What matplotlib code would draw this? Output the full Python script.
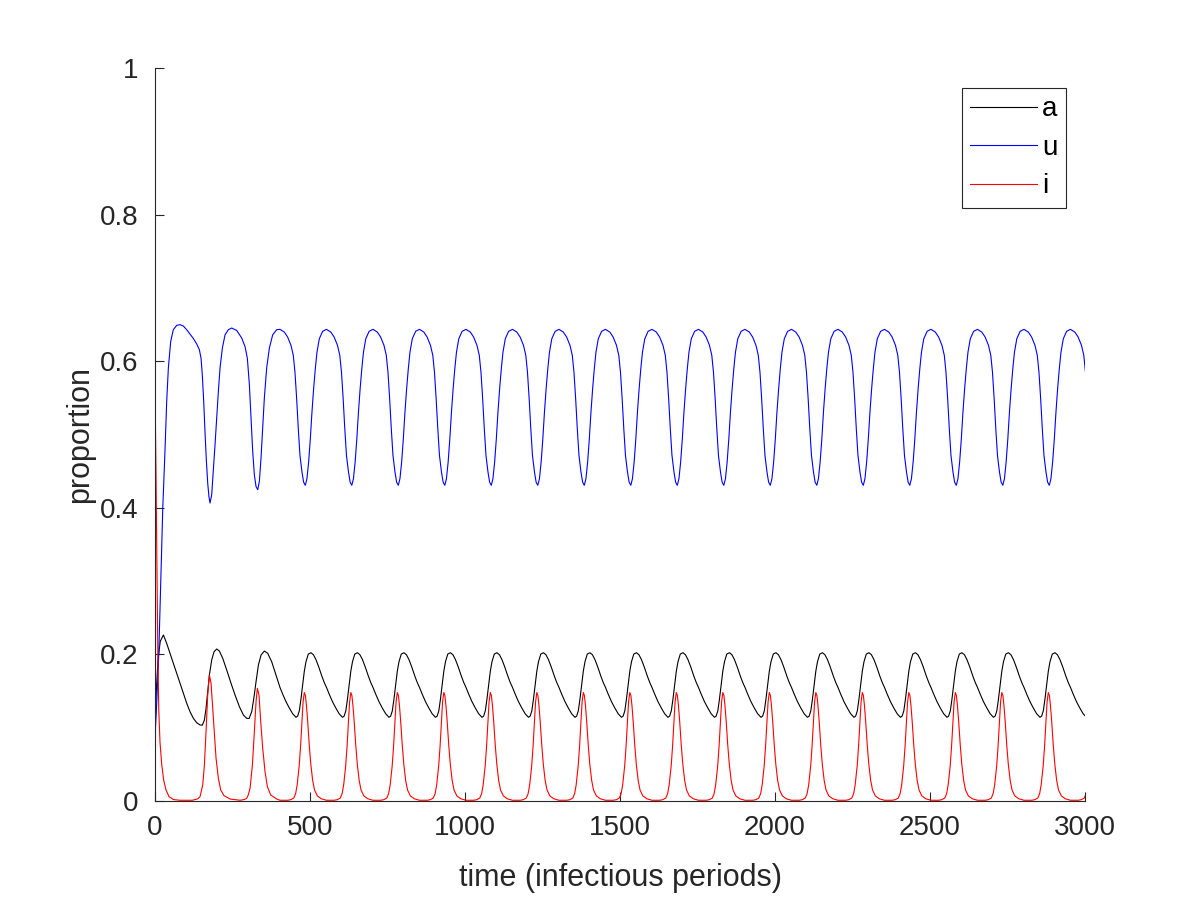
import numpy as np
import matplotlib
matplotlib.use('Agg')
import matplotlib.pyplot as plt

plt.rcParams['font.family'] = ['Liberation Sans', 'DejaVu Sans']

# ---- data ----
# start-up transient (before the oscillation settles)
a_t0 = [0, 4, 10, 17, 27, 37.6, 48.4, 59.1, 69.9, 80.6, 91.4, 102.2, 112.9, 123.7, 134.4,
        145.2, 152.7, 159.2, 164.5, 169.9, 175.3, 182.8, 190.4, 199, 207.5, 218.3, 231.2,
        245.2, 258.1, 272.1, 285, 295.7, 303.3, 311.9, 319.4, 325.8, 333.4, 342, 352.6,
        363.4, 376.3, 390.3]
a_v0 = [0.10, 0.15, 0.195, 0.218, 0.2265, 0.215, 0.2015, 0.1878, 0.174, 0.1605, 0.147,
        0.1333, 0.1218, 0.1128, 0.1068, 0.1037, 0.1035, 0.1105, 0.1262, 0.149, 0.1719,
        0.1924, 0.2037, 0.2074, 0.2046, 0.1947, 0.1787, 0.1605, 0.1446, 0.1287, 0.1173,
        0.1128, 0.1125, 0.1218, 0.1423, 0.1628, 0.1855, 0.1992, 0.2046, 0.2015, 0.19,
        0.1719]

u_t0 = [0, 1.5, 5, 12, 25, 32, 37.6, 43, 50.5, 59, 70, 80.6, 91.4, 102, 113, 123.6, 134.4,
        143, 148.4, 152.7, 157, 161, 165.5, 170, 174, 177.4, 182.8, 188, 193.5, 198.9,
        204.3, 209.7, 217.2, 225.8, 236.5, 247.3, 263.4, 279.5, 290.3, 297.8, 304.3,
        309.6, 315, 320.4, 325.8, 331.2, 336.5, 341.9, 347.3, 352.6, 360.2, 368.8,
        379.5, 392.4]
u_v0 = [0.0, 0.10, 0.13, 0.20, 0.40, 0.477, 0.545, 0.591, 0.627, 0.643, 0.649, 0.6498,
        0.648, 0.643, 0.637, 0.631, 0.6235, 0.6157, 0.604, 0.58, 0.545, 0.505, 0.465,
        0.433, 0.415, 0.4065, 0.418, 0.45, 0.486, 0.5225, 0.559, 0.591, 0.618, 0.636,
        0.643, 0.6453, 0.642, 0.6317, 0.620, 0.604, 0.568, 0.5225, 0.477, 0.445, 0.429,
        0.4247, 0.436, 0.468, 0.509, 0.55, 0.591, 0.618, 0.636, 0.643]

i_t0 = [0, 3, 6, 9, 12, 16, 21.5, 28, 35.5, 45, 59, 80, 120, 138, 145.2, 153.8, 159.2,
        164.5, 169.9, 175.3, 180.7, 186, 191.4, 196.8, 204.3, 211.8, 222.5, 241.9, 274.2,
        288, 295.7, 300.5, 306.5, 314, 320.4, 325.8, 330.1, 335.5, 340.9, 347.3, 354.8,
        362.4, 373.1, 392.5]
i_v0 = [0.56, 0.45, 0.32, 0.2, 0.125, 0.08, 0.05, 0.028, 0.015, 0.006, 0.002, 0.001,
        0.001, 0.003, 0.006, 0.022, 0.049, 0.0945, 0.1446, 0.172, 0.1605, 0.1265, 0.09,
        0.0582, 0.031, 0.015, 0.0073, 0.0027, 0.001, 0.002, 0.0037, 0.008, 0.0173, 0.049,
        0.0945, 0.1355, 0.1537, 0.144, 0.108, 0.072, 0.04, 0.0195, 0.0082, 0.0027]

# one settled cycle, time measured from a peak of u
u_cyc_dt = [0, 14, 24.7, 35.5, 43, 48.4, 53.8, 59.1, 64.5, 71, 76.3, 81.7, 87, 92.5, 97.9,
            103.2, 108.6, 114, 119.4, 126.9, 137.6, 150]
u_cyc = [0.6435, 0.6398, 0.633, 0.6217, 0.608, 0.585, 0.549, 0.508, 0.4716, 0.4488,
         0.435, 0.4307, 0.4397, 0.4625, 0.494, 0.5307, 0.5625, 0.5898, 0.6125, 0.6307,
         0.6408, 0.6435]

a_cyc_dt = [0, 8.6, 19.4, 30, 41, 51.6, 57, 62.4, 67.7, 73.1, 78.5, 83.9, 91.4, 100, 108,
            116, 125, 135, 143, 150]
a_cyc = [0.155, 0.146, 0.1355, 0.127, 0.119, 0.1142, 0.1158, 0.123, 0.139, 0.158, 0.177,
         0.190, 0.2005, 0.2023, 0.1995, 0.193, 0.183, 0.1705, 0.1615, 0.155]

i_cyc_dt = [0, 25, 35, 44.5, 50.5, 55.5, 62, 66.5, 70.5, 74.5, 78.5, 82, 85.5, 89.5, 94.5,
            99.5, 105.5, 111.5, 120.5, 133.5, 150]
i_cyc = [0.001, 0.001, 0.0018, 0.004, 0.010, 0.022, 0.048, 0.075, 0.105, 0.135, 0.148,
         0.144, 0.13, 0.108, 0.076, 0.05, 0.028, 0.015, 0.007, 0.003, 0.001]

# times of the u peaks once settled
cycle_start = [403, 553, 703, 853, 1003, 1153, 1303, 1453, 1603, 1753, 1903, 2053, 2203,
               2353, 2503, 2653, 2803, 2953]


def build(t0, v0, cdt, cv):
    t = list(t0)
    v = list(v0)
    for s in cycle_start:
        for dt, val in zip(cdt[:-1], cv[:-1]):
            t.append(s + dt)
            v.append(val)
    t.append(cycle_start[-1] + cdt[-1])
    v.append(cv[-1])
    return np.array(t), np.array(v)


a_t, a_v = build(a_t0, a_v0, a_cyc_dt, a_cyc)
u_t, u_v = build(u_t0, u_v0, u_cyc_dt, u_cyc)
i_t, i_v = build(i_t0, i_v0, i_cyc_dt, i_cyc)

# ---- figure ----
fig = plt.figure(figsize=(12, 9), dpi=100)
ax = fig.add_axes([0.1292, 0.11, 0.775, 0.8144])

lw = 0.8
ax.plot(a_t, a_v, color='k', lw=lw, label='a')
ax.plot(u_t, u_v, color='#0000ff', lw=lw, label='u')
ax.plot(i_t, i_v, color='#ff0000', lw=lw, label='i')

ax.set_xlim(0, 3000)
ax.set_ylim(0, 1)
ax.set_xticks([0, 500, 1000, 1500, 2000, 2500, 3000])
ax.set_yticks([0, 0.2, 0.4, 0.6, 0.8, 1])
ax.set_yticklabels(['0', '0.2', '0.4', '0.6', '0.8', '1'])

dark = '#262626'
for side in ['top', 'right']:
    ax.spines[side].set_visible(False)
for side in ['left', 'bottom']:
    ax.spines[side].set_color(dark)
    ax.spines[side].set_linewidth(0.8)
ax.tick_params(direction='in', length=6.7, width=0.8, colors=dark, labelsize=20)
ax.tick_params(axis='y', pad=12)
ax.tick_params(axis='x', pad=10)

ax.set_xlabel('time (infectious periods)', fontsize=22, color=dark, labelpad=16)
ax.set_ylabel('proportion', fontsize=22, color=dark, labelpad=3)

leg = ax.legend(loc='upper right', bbox_to_anchor=(0.9796, 0.9727), fontsize=20,
                fancybox=False, framealpha=1, edgecolor=dark, handlelength=2.4,
                handletextpad=0.2, labelspacing=0.45, borderpad=0.3, borderaxespad=0)
leg.get_frame().set_linewidth(0.8)

fig.savefig('out.png', dpi=100)
